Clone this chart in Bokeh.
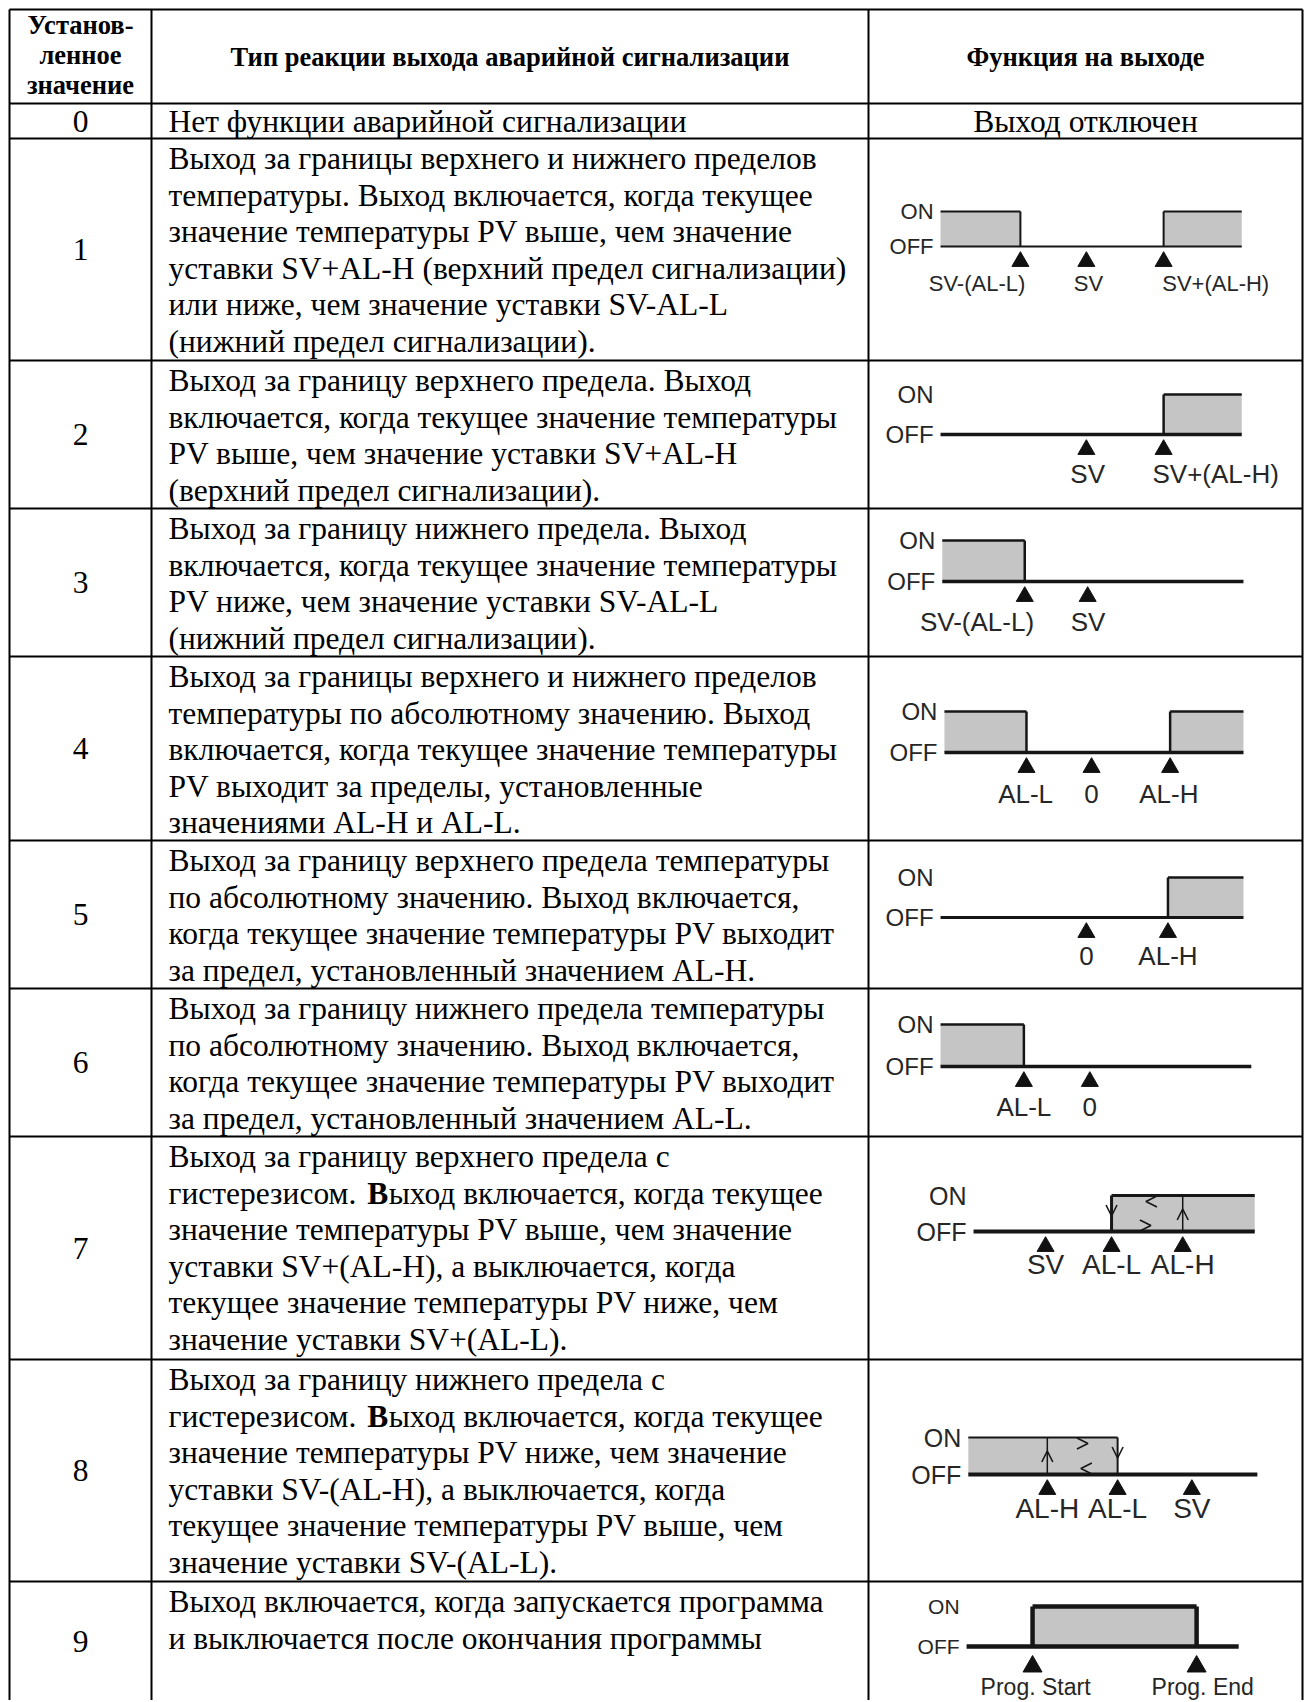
import glob, os
from bokeh.plotting import figure
from bokeh.models import Range1d
from bokeh.core.properties import value
from bokeh.embed import file_html
from bokeh.resources import INLINE

# ---------------- data ----------------
header_setting = ["Установ-", "ленное", "значение"]
header_type = "Тип реакции выхода аварийной сигнализации"
header_function = "Функция на выходе"

set_values = ["0", "1", "2", "3", "4", "5", "6", "7", "8", "9"]

descriptions = [
    ["Нет функции аварийной сигнализации"],
    ["Выход за границы верхнего и нижнего пределов",
     "температуры. Выход включается, когда текущее",
     "значение температуры PV выше, чем значение",
     "уставки SV+AL-H (верхний предел сигнализации)",
     "или ниже, чем значение уставки SV-AL-L",
     "(нижний предел сигнализации)."],
    ["Выход за границу верхнего предела. Выход",
     "включается, когда текущее значение температуры",
     "PV выше, чем значение уставки SV+AL-H",
     "(верхний предел сигнализации)."],
    ["Выход за границу нижнего предела. Выход",
     "включается, когда текущее значение температуры",
     "PV ниже, чем значение уставки SV-AL-L",
     "(нижний предел сигнализации)."],
    ["Выход за границы верхнего и нижнего пределов",
     "температуры по абсолютному значению. Выход",
     "включается, когда текущее значение температуры",
     "PV выходит за пределы, установленные",
     "значениями AL-H и AL-L."],
    ["Выход за границу верхнего предела температуры",
     "по абсолютному значению. Выход включается,",
     "когда текущее значение температуры PV выходит",
     "за предел, установленный значением AL-H."],
    ["Выход за границу нижнего предела температуры",
     "по абсолютному значению. Выход включается,",
     "когда текущее значение температуры PV выходит",
     "за предел, установленный значением AL-L."],
    ["Выход за границу верхнего предела с",
     "гистерезисом. Выход включается, когда текущее",
     "значение температуры PV выше, чем значение",
     "уставки SV+(AL-H), а выключается, когда",
     "текущее значение температуры PV ниже, чем",
     "значение уставки SV+(AL-L)."],
    ["Выход за границу нижнего предела с",
     "гистерезисом. Выход включается, когда текущее",
     "значение температуры PV ниже, чем значение",
     "уставки SV-(AL-H), а выключается, когда",
     "текущее значение температуры PV выше, чем",
     "значение уставки SV-(AL-L)."],
    ["Выход включается, когда запускается программа",
     "и выключается после окончания  программы"],
]
# (row, line, char index) of letters printed in bold
bold_letters = [(7, 1, 14), (8, 1, 14)]
no_alarm_function = "Выход отключен"

# Diagrams (rows 1..9): positions along the diagram axis, % of the cell width
diag_line = [(16.6, 86.0), (16.6, 86.0), (17.0, 86.4), (17.5, 86.4), (16.6, 86.4),
             (16.6, 88.2), (24.2, 89.0), (23.0, 89.6), (22.6, 85.3)]
diag_on = [[(16.6, 35.0), (68.0, 86.0)],
           [(68.0, 86.0)],
           [(17.0, 36.0)],
           [(17.5, 36.4), (69.5, 86.4)],
           [(69.0, 86.4)],
           [(16.6, 35.8)],
           [(56.0, 89.0)],
           [(23.0, 57.4)],
           [(37.8, 75.6)]]
diag_marks = [[35.0, 50.2, 68.0], [50.2, 68.0], [36.0, 50.5], [36.4, 51.4, 69.5],
              [50.2, 69.0], [35.8, 51.0], [40.8, 56.0, 72.4], [41.2, 57.4, 74.5],
              [37.8, 75.6]]
diag_mark_labels = [["SV-(AL-L)", "SV", "SV+(AL-H)"], ["SV", "SV+(AL-H)"],
                    ["SV-(AL-L)", "SV"], ["AL-L", "0", "AL-H"], ["0", "AL-H"],
                    ["AL-L", "0"], ["SV", "AL-L", "AL-H"], ["AL-H", "AL-L", "SV"],
                    ["Prog. Start", "Prog. End"]]
diag_label_pos = [[25.0, 50.7, 80.0], [50.5, 80.0], [25.0, 50.6], [36.2, 51.4, 69.2],
                  [50.2, 69.0], [35.8, 51.0], [40.8, 56.0, 72.4], [41.2, 57.4, 74.5],
                  [38.5, 77.0]]
hyst_inner = [None, None, None, None, None, None, 72.4, 41.2, None]
# hysteresis arrows: (direction, position %, where)
hyst_arrows = [[], [], [], [], [], [],
               [("down", 56.0, "mid"), ("up", 72.4, "mid2"), ("left", 65.2, "on"), ("right", 63.8, "off")],
               [("up", 41.2, "mid2"), ("down", 57.4, "mid"), ("right", 49.3, "on"), ("left", 50.2, "off")],
               []]
on_text, off_text = "ON", "OFF"

# ---------------- layout ----------------
W, H = 1313, 1700
LEFT, RIGHT, TOP, BOTTOM = 9, 1302, 9, 1700
COL1, COL2 = 151, 868
row_edges = [103, 138, 360, 508, 656, 840, 988, 1136, 1359, 1581]
LINE_H = 36.5
TEXT_X = 168
FIRST_DY = 20

# per diagram: on_dy, off_dy, label_dy, onoff_font, label_font, lw_off, lw_box, tri_dy, tri_size
dstyle = [
    (73, 108, 37, 22, 22, 2.0, 2.0, 15, 17),
    (34, 74, 39, 24, 26, 3.5, 2.5, 15, 17),
    (32, 73, 40, 24, 26, 3.5, 2.5, 15, 17),
    (55, 96, 41, 24, 26, 3.5, 2.5, 15, 17),
    (37, 77, 38, 24, 26, 3.0, 2.5, 15, 17),
    (36, 78, 40, 24, 26, 3.5, 2.5, 15, 17),
    (59, 95, 33, 25, 28, 4.0, 3.0, 15, 17),
    (78, 115, 34, 25, 28, 4.0, 2.0, 15, 17),
    (25, 65, 40, 21, 23, 4.5, 4.5, 20, 19),
]
LINE_C = "#161616"
FILL_C = "#c5c5c5"
LAB_C = "#262626"
ARROW = 5.5


def fpath(name):
    for root in ["/usr/share/fonts", "/usr/local/share/fonts",
                 os.path.expanduser("~/.fonts"), os.path.expanduser("~/.local/share/fonts")]:
        hits = glob.glob(os.path.join(root, "**", name), recursive=True)
        if hits:
            return hits[0]
    return None


try:
    from PIL import ImageFont
except Exception:
    ImageFont = None


def measure(text, fname, size, fallback=0.47):
    pth = fpath(fname)
    if ImageFont is not None and pth:
        try:
            return ImageFont.truetype(pth, int(round(size))).getlength(text)
        except Exception:
            pass
    return fallback * size * len(text)


REG = "LiberationSerif-Regular.ttf"
BLD = "LiberationSerif-Bold.ttf"
body_size = round(100 * 652 / measure(descriptions[1][0], REG, 100) * 2) / 2
head_size = round(100 * 559 / measure(header_type, BLD, 100, 0.5) * 2) / 2
body_size = min(max(body_size, 26), 36)
head_size = min(max(head_size, 20), 30)
BODY = f"{body_size}px"
HEAD = f"{head_size}px"

p = figure(width=W, height=H, x_range=Range1d(0, W), y_range=Range1d(H, 0),
           output_backend="svg", toolbar_location=None, x_axis_type=None, y_axis_type=None,
           min_border=0, background_fill_color="white", border_fill_color="white")
p.grid.visible = False
p.outline_line_color = None

# table grid
hx0, hx1, hy = [], [], []
for y in [TOP] + row_edges:
    hx0.append(LEFT); hx1.append(RIGHT); hy.append(y)
p.segment(x0=hx0, y0=hy, x1=hx1, y1=hy, line_color="black", line_width=2)
vx = [LEFT, COL1, COL2, RIGHT]
p.segment(x0=vx, y0=[TOP] * 4, x1=vx, y1=[BOTTOM] * 4, line_color="black", line_width=2)

serif = value("Liberation Serif")
sans = value("Liberation Sans")

# header
hs_y = [24, 54, 84]
p.text(x=[(LEFT + COL1) / 2] * 3, y=hs_y, text=header_setting, text_font=serif,
       text_font_style="bold", text_font_size=HEAD, text_align="center",
       text_baseline="middle", text_color="black")
p.text(x=[(COL1 + COL2) / 2, (COL2 + RIGHT) / 2], y=[56, 56], text=[header_type, header_function],
       text_font=serif, text_font_style="bold", text_font_size=HEAD, text_align="center",
       text_baseline="middle", text_color="black")

# row numbers
tops = row_edges
bots = row_edges[1:] + [BOTTOM]
p.text(x=[(LEFT + COL1) / 2] * len(set_values), y=[(t + b) / 2 for t, b in zip(tops, bots)],
       text=set_values, text_font=serif, text_font_size=BODY, text_align="center",
       text_baseline="middle", text_color="black")

# descriptions
bold_map = {(r, l): c for r, l, c in bold_letters}
tx, ty, tt = [], [], []
bx, by, bt = [], [], []
for i, lines in enumerate(descriptions):
    for j, line in enumerate(lines):
        if i == 0:
            y = (tops[0] + bots[0]) / 2
        else:
            y = tops[i] + FIRST_DY + j * LINE_H
        if (i, j) in bold_map:
            c = bold_map[(i, j)]
            pre, b, post = line[:c], line[c], line[c + 1:]
            w_pre = measure(pre, REG, body_size)
            w_b = measure(b, BLD, body_size)
            tx += [TEXT_X, TEXT_X + w_pre + w_b]; ty += [y, y]; tt += [pre, post]
            bx.append(TEXT_X + w_pre); by.append(y); bt.append(b)
        else:
            tx.append(TEXT_X); ty.append(y); tt.append(line)
p.text(x=tx, y=ty, text=tt, text_font=serif, text_font_size=BODY, text_align="left",
       text_baseline="middle", text_color="black")
p.text(x=bx, y=by, text=bt, text_font=serif, text_font_style="bold", text_font_size=BODY,
       text_align="left", text_baseline="middle", text_color="black")
p.text(x=[(COL2 + RIGHT) / 2], y=[(tops[0] + bots[0]) / 2], text=[no_alarm_function],
       text_font=serif, text_font_size=BODY, text_align="center", text_baseline="middle",
       text_color="black")


# diagrams
def ux(u):
    return COL2 + u / 100.0 * (RIGHT - COL2)


for k in range(9):
    row = k + 1
    top = tops[row]
    on_dy, off_dy, lab_dy, f_onoff, f_lab, lw_off, lw_box, tri_dy, tri_size = dstyle[k]
    y_on, y_off = top + on_dy, top + off_dy
    s, e = diag_line[k]
    ons = diag_on[k]
    p.quad(left=[ux(a) for a, b in ons], right=[ux(b) for a, b in ons],
           top=[y_on] * len(ons), bottom=[y_off] * len(ons),
           fill_color=FILL_C, line_color=None)
    p.segment(x0=[ux(s)], y0=[y_off], x1=[ux(e)], y1=[y_off], line_color=LINE_C, line_width=lw_off)
    sx0, sy0, sx1, sy1 = [], [], [], []
    for a, b in ons:
        sx0.append(ux(a)); sy0.append(y_on); sx1.append(ux(b)); sy1.append(y_on)
        for edge in (a, b):
            if abs(edge - s) > 0.5 and abs(edge - e) > 0.5:
                sx0.append(ux(edge)); sy0.append(y_on); sx1.append(ux(edge)); sy1.append(y_off)
    p.segment(x0=sx0, y0=sy0, x1=sx1, y1=sy1, line_color=LINE_C, line_width=lw_box)
    if hyst_inner[k] is not None:
        xi = ux(hyst_inner[k])
        p.segment(x0=[xi], y0=[y_on], x1=[xi], y1=[y_off], line_color=LINE_C, line_width=1.5)
    axs, ays = [], []
    a_ = ARROW
    for d, u, where in hyst_arrows[k]:
        x = ux(u)
        y = {"on": y_on + 6, "off": y_off - 6, "mid": y_on + 15, "mid2": y_on + 19}[where]
        if d == "down":
            pts = [(x - a_, y - a_), (x, y + a_), (x + a_, y - a_)]
        elif d == "up":
            pts = [(x - a_, y + a_), (x, y - a_), (x + a_, y + a_)]
        elif d == "left":
            pts = [(x + a_, y - a_), (x - a_, y), (x + a_, y + a_)]
        else:
            pts = [(x - a_, y - a_), (x + a_, y), (x - a_, y + a_)]
        axs.append([q[0] for q in pts]); ays.append([q[1] for q in pts])
    if axs:
        p.multi_line(xs=axs, ys=ays, line_color=LINE_C, line_width=1.6)
    mk = diag_marks[k]
    p.scatter(x=[ux(u) for u in mk], y=[y_off + tri_dy] * len(mk), marker="triangle",
              size=tri_size, fill_color="#111111", line_color="#111111")
    p.text(x=[ux(u) for u in diag_label_pos[k]], y=[y_off + lab_dy] * len(mk),
           text=diag_mark_labels[k], text_font=sans, text_font_size=f"{f_lab}px",
           text_align="center", text_baseline="middle", text_color=LAB_C)
    p.text(x=[ux(s) - 7] * 2, y=[y_on, y_off], text=[on_text, off_text], text_font=sans,
           text_font_size=f"{f_onoff}px", text_align="right", text_baseline="middle",
           text_color=LAB_C)

open("out.html", "w").write(file_html(p, INLINE))
